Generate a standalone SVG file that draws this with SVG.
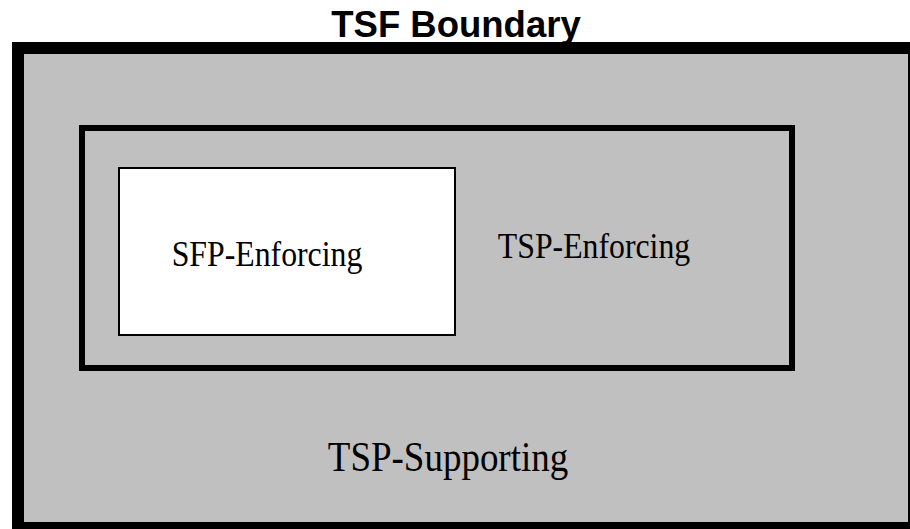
<svg xmlns="http://www.w3.org/2000/svg" width="910" height="529" viewBox="0 0 910 529">
<style>
.serif{font-family:"Liberation Serif","Times New Roman",serif;fill:#000}
.title{font-family:"Liberation Sans",Arial,sans-serif;font-weight:bold;fill:#000}
</style>
<rect x="0" y="0" width="910" height="529" fill="#fff"/>
<g id="tsf-boundary">
<rect x="18" y="48" width="896" height="480" fill="#c0c0c0" stroke="#000" stroke-width="12"/>
<text class="title" x="456" y="37" font-size="36.5" text-anchor="middle">TSF Boundary</text>
</g>
<g id="tsp-supporting">
<text class="serif" transform="translate(448,471) scale(1,1.12)" font-size="37" text-anchor="middle">TSP-Supporting</text>
</g>
<g id="tsp-enforcing">
<rect x="82" y="128" width="710" height="240" fill="none" stroke="#000" stroke-width="6"/>
<text class="serif" transform="translate(594,258) scale(1,1.1)" font-size="31.8" text-anchor="middle">TSP-Enforcing</text>
</g>
<g id="sfp-enforcing">
<rect x="119" y="168" width="336" height="167" fill="#fff" stroke="#000" stroke-width="2"/>
<text class="serif" transform="translate(267,266) scale(1,1.1)" font-size="31.8" text-anchor="middle">SFP-Enforcing</text>
</g>
<g id="connectors"/>
</svg>
